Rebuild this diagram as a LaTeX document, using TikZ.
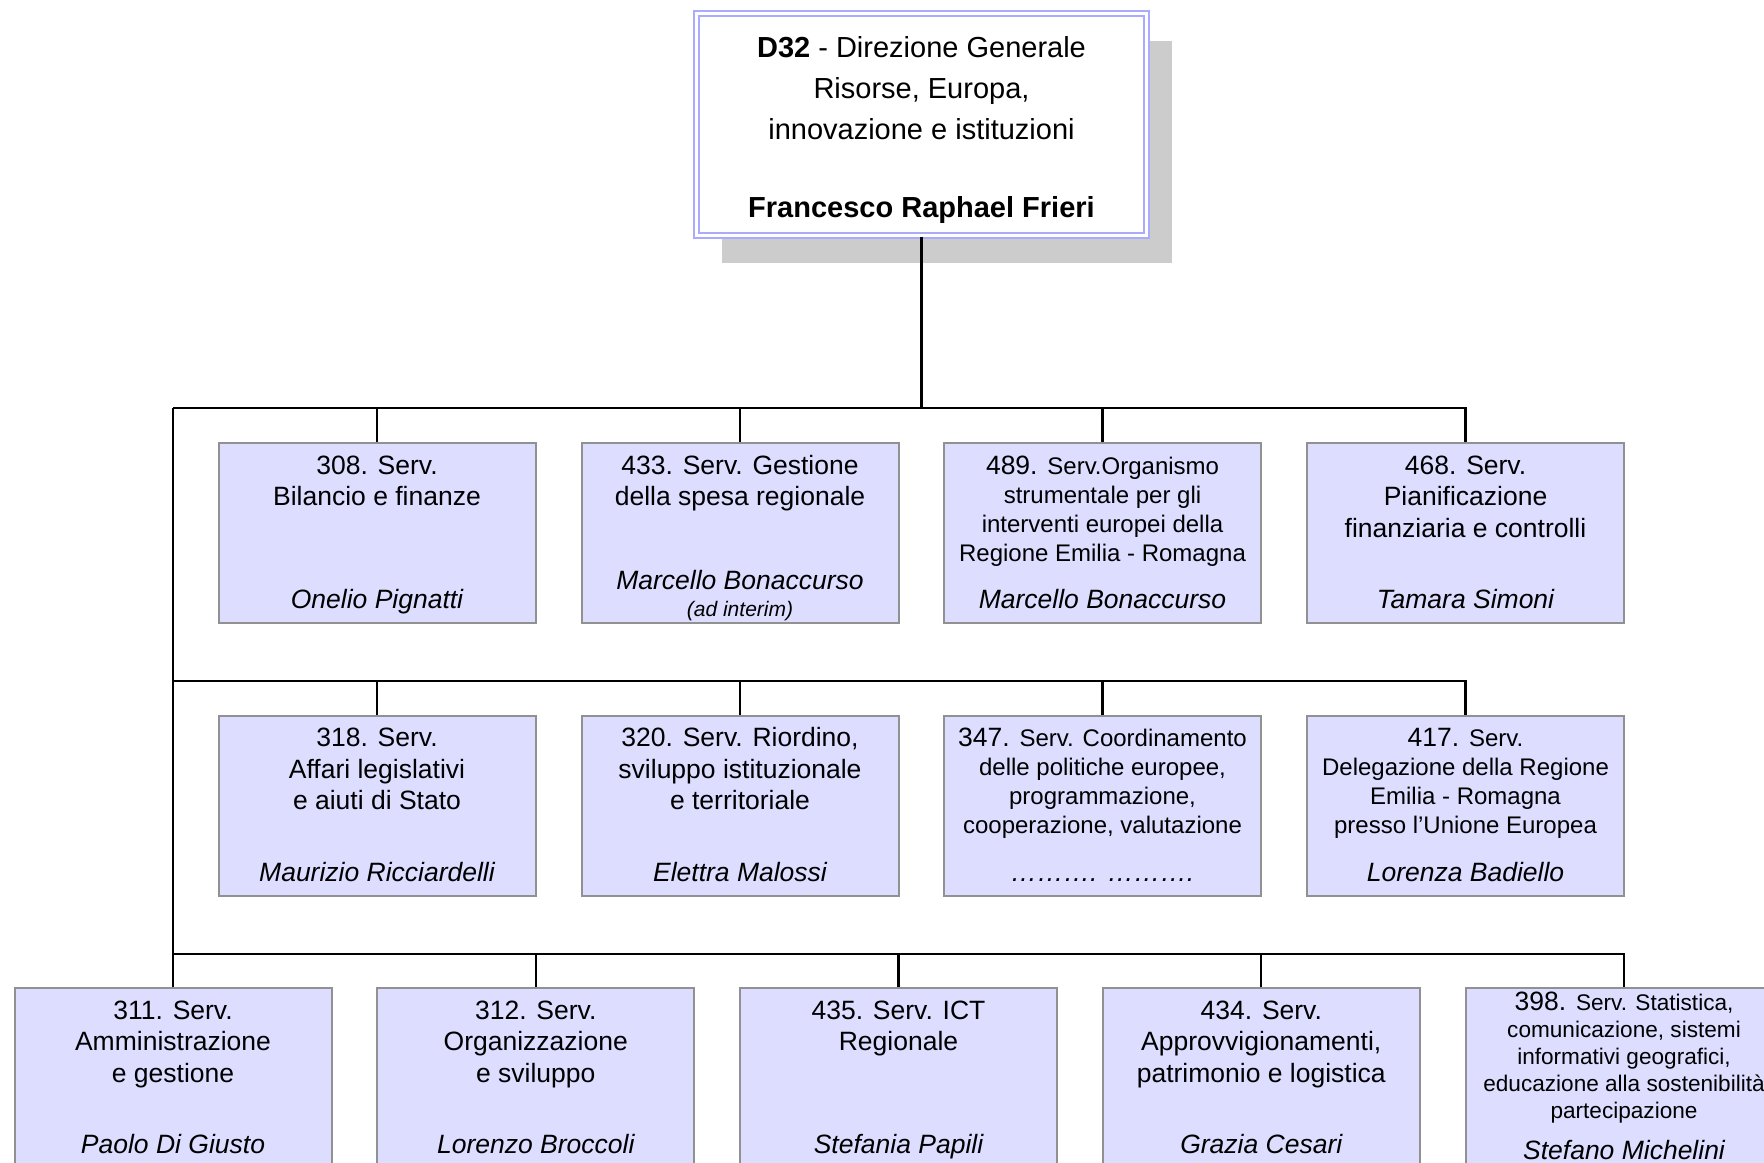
\documentclass[tikz,border=0pt]{standalone}
\usepackage{fontspec}
\setmainfont{Liberation Sans}
\usetikzlibrary{shadows}
\definecolor{servfill}{RGB}{221,221,255}
\definecolor{servline}{RGB}{145,145,145}
\definecolor{dirline}{RGB}{170,170,255}
\definecolor{dirshadow}{RGB}{204,204,204}
\newcommand{\tops}{\rule{0pt}{12.15pt}}
\newcommand{\bots}{\rule[-3.75pt]{0pt}{3.75pt}}
\newcommand{\sm}{\fontsize{12}{14.5}\selectfont}
\newcommand{\smm}{\fontsize{11.3}{13.5}\selectfont}
\newcommand{\nm}{\fontsize{13.25}{15.75}\selectfont\itshape}
\newcommand{\servtxt}[2]{\parbox[c][83pt][s]{156pt}{\centering#1\par\vfill#2\par\vspace{0pt}}}
\begin{document}
\begin{tikzpicture}[x=0.5pt, y=-0.5pt,
    font=\fontsize{13.25}{15.75}\selectfont,
    dirbox/.style={draw=dirline, double=white, double distance=1.5pt, line width=1pt,
      fill=white, minimum width=225pt, minimum height=111pt, inner sep=0pt, align=center,
      font=\fontsize{14.5}{20.5}\selectfont,
      drop shadow={shadow xshift=12.7pt, shadow yshift=-13.7pt, fill=dirshadow, opacity=1}},
    servbox/.style={draw=servline, fill=servfill, line width=1pt,
      minimum width=158.5pt, minimum height=90pt, inner sep=0pt},
    link/.style={line width=1.1pt, black}]
  \useasboundingbox (0,0) rectangle (1764,1162);
  \clip (0,0) rectangle (1764,1162);

  \node[dirbox] (dg) at (921.5,124.5) {\rule{0pt}{16.2pt}\textbf{D32} - Direzione Generale\\Risorse, Europa,\\innovazione e istituzioni\\[18.5pt]\textbf{Francesco Raphael Frieri}};

  \coordinate (b1) at (173,408);
  \coordinate (b2) at (173,681);
  \coordinate (b3) at (173,954);

  \node[servbox] (s308) at (377,533) {\servtxt{\tops 308. Serv.\\Bilancio e finanze}{\nm Onelio Pignatti\bots}};
  \node[servbox] (s433) at (740,533) {\servtxt{\tops 433. Serv. Gestione\\della spesa regionale}{\nm Marcello Bonaccurso\\\fontsize{10.5}{13.2}\selectfont\smash{(ad interim)}}};
  \node[servbox] (s489) at (1102.5,533) {\servtxt{\tops 489. \sm Serv.Organismo\\strumentale per gli\\interventi europei della\\Regione Emilia - Romagna}{\nm Marcello Bonaccurso\bots}};
  \node[servbox] (s468) at (1465.5,533) {\servtxt{\tops 468. Serv.\\Pianificazione\\finanziaria e controlli}{\nm Tamara Simoni\bots}};

  \node[servbox] (s318) at (377,805.5) {\servtxt{\tops 318. Serv.\\Affari legislativi\\e aiuti di Stato}{\nm Maurizio Ricciardelli\bots}};
  \node[servbox] (s320) at (740,805.5) {\servtxt{\tops 320. Serv. Riordino,\\sviluppo istituzionale\\e territoriale}{\nm Elettra Malossi\bots}};
  \node[servbox] (s347) at (1102.5,805.5) {\servtxt{\tops 347. \sm Serv. Coordinamento\\delle politiche europee,\\programmazione,\\cooperazione, valutazione}{\nm ………. ……….\bots}};
  \node[servbox] (s417) at (1465.5,805.5) {\servtxt{\tops 417. \sm Serv.\\Delegazione della Regione\\Emilia - Romagna\\presso l’Unione Europea}{\nm Lorenza Badiello\bots}};

  \node[servbox] (s311) at (173,1078) {\servtxt{\tops 311. Serv.\\Amministrazione\\e gestione}{\nm Paolo Di Giusto\bots}};
  \node[servbox] (s312) at (535.75,1078) {\servtxt{\tops 312. Serv.\\Organizzazione\\e sviluppo}{\nm Lorenzo Broccoli\bots}};
  \node[servbox] (s435) at (898.5,1078) {\servtxt{\tops 435. Serv. ICT\\Regionale}{\nm Stefania Papili\bots}};
  \node[servbox] (s434) at (1261.25,1078) {\servtxt{\tops 434. Serv.\\Approvvigionamenti,\\patrimonio e logistica}{\nm Grazia Cesari\bots}};
  \node[servbox] (s398) at (1624,1078) {\servtxt{\vspace*{-1.5pt}398. \smm Serv. Statistica,\\comunicazione, sistemi\\informativi geografici,\\\makebox[156pt]{educazione alla sostenibilità}\\partecipazione}{\nm Stefano Michelini\rule[-0.75pt]{0pt}{0.75pt}}};

  \draw[link] (dg.south) |- (b1);
  \draw[link] (b1) -- (b3);
  \draw[link] (s308.north) |- (b1);
  \draw[link] (s433.north) |- (b1);
  \draw[link] (s489.north) |- (b1);
  \draw[link] (s468.north) |- (b1);
  \draw[link] (s318.north) |- (b2);
  \draw[link] (s320.north) |- (b2);
  \draw[link] (s347.north) |- (b2);
  \draw[link] (s417.north) |- (b2);
  \draw[link] (s311.north) -- (b3);
  \draw[link] (s312.north) |- (b3);
  \draw[link] (s435.north) |- (b3);
  \draw[link] (s434.north) |- (b3);
  \draw[link] (s398.north) |- (b3);
\end{tikzpicture}
\end{document}
